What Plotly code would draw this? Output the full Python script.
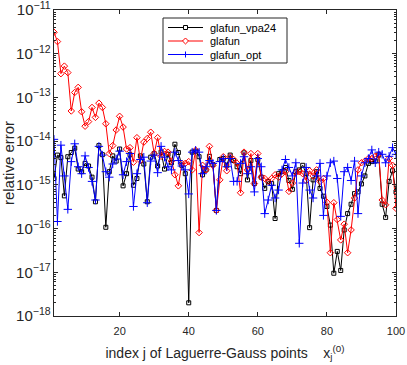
import plotly.graph_objects as go

# index j of Laguerre-Gauss points
j_index = list(range(1, 101))

err_vpa24 = [
    1.4e-15, 4.8e-15, 4.2e-15, 5.6e-16, 4.4e-15, 5.5e-15, 6.9e-15, 2.3e-15, 2.0e-15, 3.1e-15,
    2.7e-15, 1.5e-15, 4.1e-16, 7.9e-15, 4.9e-15, 1.07e-16, 2.0e-15, 4.6e-15, 3.5e-15, 6.6e-15,
    9.5e-16, 1.8e-15, 4.9e-15, 9.8e-16, 1.4e-15, 4.6e-15, 3.0e-15, 4.1e-16, 4.3e-15, 5.2e-15,
    2.7e-15, 5.6e-15, 2.3e-15, 5.0e-15, 3.2e-15, 8.5e-15, 5.5e-15, 2.8e-15, 1.8e-15, 2.0e-18,
    5.6e-15, 5.9e-15, 4.4e-15, 1.7e-15, 2.2e-15, 4.5e-15, 2.9e-15, 2.6e-16, 3.8e-15, 4.0e-15,
    2.8e-15, 4.8e-15, 3.6e-15, 2.6e-15, 1.8e-15, 5.4e-15, 1.3e-15, 3.6e-15, 1.07e-15, 3.8e-15,
    1.5e-15, 8.3e-16, 1.2e-15, 1.07e-15, 1.7e-16, 1.8e-15, 2.0e-15, 2.5e-15, 1.26e-15, 7.9e-16,
    2.0e-15, 2.2e-15, 2.8e-15, 1.8e-15, 1.05e-16, 1.3e-15, 2.0e-15, 8.3e-16, 5.5e-16, 3.2e-16,
    1.2e-16, 9.5e-18, 3.0e-17, 1.1e-17, 9.3e-17, 2.2e-16, 3.6e-16, 6.3e-16, 6.9e-16, 1.05e-15,
    1.6e-15, 3.1e-15, 3.4e-15, 3.5e-15, 4.8e-15, 3.6e-16, 1.8e-16, 1.2e-15, 2.1e-15, 6.9e-16,
]

err_glafun = [
    3.1e-12, 1.9e-12, 3.5e-13, 5.2e-13, 3.7e-13, 4.9e-14, 1.3e-13, 1.7e-13, 4.7e-14, 2.2e-14,
    2.8e-14, 5.9e-14, 3.5e-14, 7.4e-14, 5.9e-14, 2.5e-14, 5.2e-15, 7.9e-15, 1.8e-14, 3.7e-14,
    2.1e-14, 6.6e-15, 7.1e-15, 3.3e-15, 1.2e-14, 3.6e-15, 9.5e-15, 1.15e-14, 1.6e-14, 5.2e-15,
    1.2e-14, 4.5e-15, 5.8e-15, 5.6e-15, 3.5e-15, 1.7e-15, 9.5e-16, 3.1e-15, 3.1e-15, 3.4e-15,
    2.2e-15, 6.2e-15, 8.1e-17, 2.8e-15, 2.2e-15, 7.6e-15, 2.8e-15, 2.6e-16, 1.3e-15, 4.4e-15,
    2.1e-15, 4.4e-15, 3.8e-15, 3.1e-15, 6.6e-16, 5.6e-15, 2.2e-15, 5.2e-15, 1.07e-15, 5.2e-15,
    1.5e-15, 1.4e-15, 1.2e-15, 1.4e-15, 1.7e-15, 1.5e-15, 1.8e-15, 2.0e-15, 7.1e-16, 1.1e-15,
    1.9e-15, 2.0e-15, 1.8e-15, 1.26e-15, 2.1e-15, 1.6e-15, 2.2e-15, 1.2e-15, 1.4e-15, 4.0e-16,
    2.8e-17, 3.9e-16, 1.6e-16, 5.5e-17, 1.26e-16, 2.8e-17, 9.3e-17, 5.0e-16, 2.2e-15, 3.2e-15,
    3.5e-15, 4.0e-15, 4.0e-15, 4.5e-15, 5.0e-15, 4.5e-16, 3.5e-16, 4.0e-15, 2.8e-15, 2.9e-16,
]

err_glafun_opt = [
    1.1e-14, 1.45e-16, 8.1e-15, 1.6e-15, 2.75e-16, 3.4e-15, 8.7e-15, 2.6e-15, 1.8e-15, 4.6e-15,
    2.5e-15, 1.2e-15, 4.5e-16, 7.6e-15, 4.8e-15, 2.0e-15, 1.5e-15, 3.0e-15, 3.9e-15, 5.9e-15,
    1.7e-15, 3.4e-15, 5.2e-15, 3.2e-16, 1.8e-15, 3.8e-15, 4.3e-15, 3.9e-16, 3.5e-15, 4.8e-15,
    1.9e-15, 7.6e-15, 4.3e-15, 2.6e-15, 2.2e-15, 5.6e-15, 3.6e-15, 2.7e-15, 2.2e-15, 6.2e-16,
    5.6e-15, 6.2e-15, 5.6e-15, 1.8e-15, 2.6e-15, 3.6e-15, 3.1e-15, 2.6e-16, 3.4e-15, 4.0e-15,
    2.6e-15, 4.0e-15, 1.2e-15, 1.2e-15, 3.1e-15, 4.4e-15, 1.8e-15, 2.6e-15, 6.9e-16, 4.0e-15,
    2.6e-15, 2.2e-16, 4.5e-16, 9.8e-16, 5.0e-16, 7.6e-16, 2.2e-15, 3.8e-15, 2.5e-15, 1.6e-15,
    3.2e-15, 4.6e-17, 1.1e-15, 2.5e-15, 7.6e-16, 5.0e-16, 1.6e-15, 3.1e-15, 2.0e-16, 1.6e-15,
    3.2e-15, 3.5e-15, 1.4e-15, 1.9e-16, 2.0e-15, 2.5e-15, 1.26e-15, 3.5e-15, 2.2e-16, 1.6e-15,
    3.2e-15, 4.0e-15, 6.3e-15, 3.2e-15, 5.6e-15, 5.0e-15, 3.2e-15, 4.5e-15, 7.1e-15, 5.0e-15,
]

series_names = ["glafun_vpa24", "glafun", "glafun_opt"]
series_colors = ["black", "red", "blue"]
x_ticks = [20, 40, 60, 80, 100]

FONT = "Liberation Sans, Arial, sans-serif"
AXC = "#262626"

W, H = 407, 365
ML, MR, MT, MB = 54, 11, 10, 49
PW, PH = W - ML - MR, H - MT - MB


def px(x, y):
    """pixel position in the page -> paper coordinates"""
    return (x - ML) / PW, (H - MB - y) / PH


fig = go.Figure()
fig.add_trace(go.Scatter(
    x=j_index, y=err_vpa24, name=series_names[0], mode="lines+markers",
    line=dict(color=series_colors[0], width=1),
    marker=dict(symbol="square-open", size=4, color=series_colors[0], line=dict(width=1, color=series_colors[0])),
))
fig.add_trace(go.Scatter(
    x=j_index, y=err_glafun, name=series_names[1], mode="lines+markers",
    line=dict(color=series_colors[1], width=1),
    marker=dict(symbol="diamond-open", size=5, color=series_colors[1], line=dict(width=1, color=series_colors[1])),
))
fig.add_trace(go.Scatter(
    x=j_index, y=err_glafun_opt, name=series_names[2], mode="lines+markers",
    line=dict(color=series_colors[2], width=1),
    marker=dict(symbol="cross-thin-open", size=6, color=series_colors[2], line=dict(width=1, color=series_colors[2])),
))

# ---- legend box drawn in the upper middle of the axes (MATLAB style) ----
shapes = []
annotations = []
bx0, by0 = px(163, 18)
bx1, by1 = px(287, 63)
shapes.append(dict(type="rect", xref="paper", yref="paper", x0=bx0, y0=by1, x1=bx1, y1=by0,
                   line=dict(color=AXC, width=1), fillcolor="white", layer="above"))
row_y = [27.5, 41.0, 54.5]
for k, (name, col) in enumerate(zip(series_names, series_colors)):
    ry = row_y[k]
    lx0, ly = px(168, ry)
    lx1, _ = px(203, ry)
    shapes.append(dict(type="line", xref="paper", yref="paper", x0=lx0, y0=ly, x1=lx1, y1=ly,
                       line=dict(color=col, width=1), layer="above"))
    cx = 185.5
    if k == 0:
        a0 = px(cx - 2, ry - 2)
        a1 = px(cx + 2, ry + 2)
        shapes.append(dict(type="rect", xref="paper", yref="paper", x0=a0[0], y0=a1[1], x1=a1[0], y1=a0[1],
                           line=dict(color=col, width=1), fillcolor="white", layer="above"))
    elif k == 1:
        pts = [px(cx, ry - 3), px(cx + 3, ry), px(cx, ry + 3), px(cx - 3, ry)]
        path = "M " + " L ".join(f"{p[0]:.5f},{p[1]:.5f}" for p in pts) + " Z"
        shapes.append(dict(type="path", xref="paper", yref="paper", path=path,
                           line=dict(color=col, width=1), fillcolor="white", layer="above"))
    else:
        v0, v1 = px(cx, ry - 3), px(cx, ry + 3)
        shapes.append(dict(type="line", xref="paper", yref="paper", x0=v0[0], y0=v0[1], x1=v1[0], y1=v1[1],
                           line=dict(color=col, width=1), layer="above"))
    tx, ty = px(208, ry)
    annotations.append(dict(xref="paper", yref="paper", x=tx, y=ty, xanchor="left", yanchor="middle",
                            text=name, showarrow=False,
                            font=dict(family=FONT, size=11, color="black")))

fig.update_layout(
    width=W, height=H,
    margin=dict(l=ML, r=MR, t=MT, b=MB, autoexpand=False),
    paper_bgcolor="white", plot_bgcolor="white",
    font=dict(family=FONT, size=11, color=AXC),
    showlegend=False,
    shapes=shapes,
    annotations=annotations,
    xaxis=dict(
        range=[1, 100], tickmode="array", tickvals=x_ticks,
        ticks="inside", ticklen=4, tickcolor=AXC,
        showline=True, linecolor=AXC, linewidth=1, mirror="allticks",
        showgrid=False, zeroline=False, automargin=False,
        ticklabelstandoff=5, ticklabeloverflow="allow",
        tickfont=dict(family=FONT, size=11, color=AXC),
        title=dict(
            text="index j of Laguerre-Gauss points    x<sub>j</sub><sup>(0)</sup>",
            font=dict(family=FONT, size=14, color=AXC), standoff=11,
        ),
    ),
    yaxis=dict(
        type="log", range=[-18.0005, -10.9995], tick0=0, dtick=1,
        exponentformat="power", showexponent="all",
        ticks="inside", ticklen=4, tickcolor=AXC,
        minor=dict(ticks="inside", ticklen=2, tickcolor=AXC, showgrid=False),
        showline=True, linecolor=AXC, linewidth=1, mirror="allticks",
        showgrid=False, zeroline=False, automargin=False,
        ticklabeloverflow="allow",
        tickfont=dict(family=FONT, size=12, color=AXC),
        title=dict(text="relative error", font=dict(family=FONT, size=15, color=AXC), standoff=4),
    ),
)

fig.write_html(
    "out.html",
    config={"displayModeBar": False},
    post_script="document.body.style.margin='0px';document.body.style.overflow='hidden';",
)
